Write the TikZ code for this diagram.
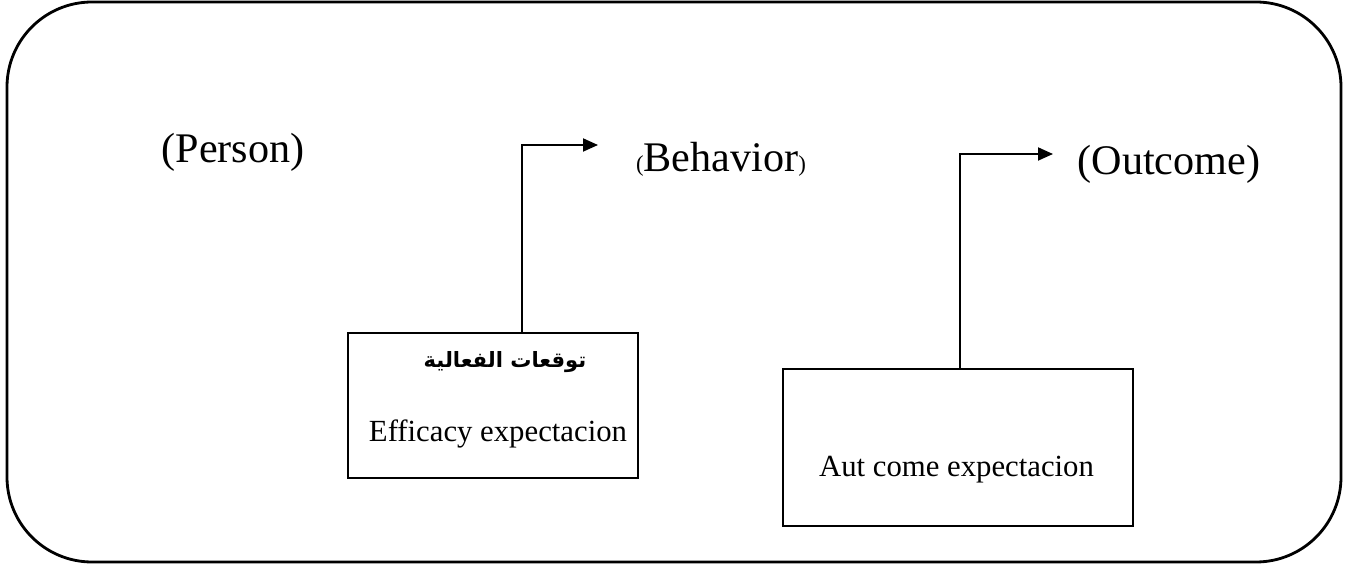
\documentclass[tikz,border=0pt]{standalone}
\usepackage{fontspec}
\setmainfont{Liberation Serif}
\newfontfamily\arabicfont[Script=Arabic]{DejaVu Sans}
\TeXXeTstate=1
\usetikzlibrary{arrows.meta,positioning}

\begin{document}
\begin{tikzpicture}[x=0.02cm,y=-0.02cm,
  bigtext/.style={anchor=base,inner sep=0pt,font=\fontsize{24}{28}\selectfont},
  smalltext/.style={anchor=base,inner sep=0pt,font=\fontsize{17.5}{21}\selectfont},
  expbox/.style={draw,line width=1.1pt,inner sep=0pt},
  flow/.style={line width=1.1pt,-{Triangle[length=0.3cm,width=0.26cm]}}
]
\useasboundingbox (0,0) rectangle (1347,564);

\draw[line width=1.6pt,rounded corners=1.7cm] (7,2) rectangle (1341,562);

\node[bigtext] (person) at (233,163) {(Person)};
\node[bigtext] (behavior) at (721,172) {{\fontsize{13}{15}\selectfont(}Behavior{\fontsize{13}{15}\selectfont)}};
\node[bigtext] (outcome) at (1169,175) {(Outcome)};

\node[expbox,minimum width=5.8cm,minimum height=2.9cm] (eff) at (493,405.5) {};
\node[inner sep=0pt,font=\arabicfont\bfseries\fontsize{12}{14}\selectfont] (effar) at (505,362) {\beginR توقعات الفعالية\endR};
\node[smalltext] (efflabel) at (498,442) {Efficacy expectacion};

\node[expbox,minimum width=7cm,minimum height=3.14cm] (aut) at (958,447.5) {};
\node[smalltext] (autlabel) at (956.5,477) {Aut come expectacion};

\coordinate (behtip) at (598,145);
\coordinate (outtip) at (1053,154);

\draw[flow] ([xshift=0.58cm]eff.north) |- (behtip);
\draw[flow] ([xshift=0.04cm]aut.north) |- (outtip);

\end{tikzpicture}
\end{document}
